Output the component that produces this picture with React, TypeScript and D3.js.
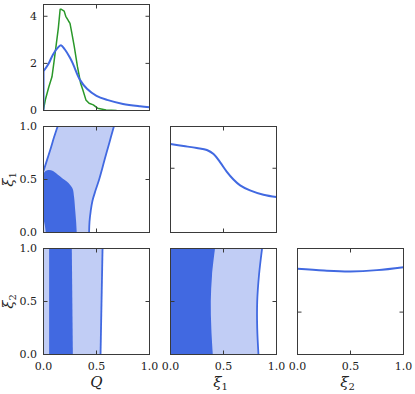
import React from 'react';
import * as d3 from 'd3';

// ---- data ----
const qBlueQ = [0, 0.045, 0.09, 0.14, 0.165, 0.2, 0.25, 0.28, 0.344, 0.41, 0.5, 0.6, 0.75, 0.91, 1.0];
const qBlueD = [1.67, 1.96, 2.38, 2.69, 2.77, 2.6, 2.24, 1.96, 1.3, 0.92, 0.62, 0.45, 0.28, 0.18, 0.14];
const qGreenQ = [0, 0.02, 0.05, 0.08, 0.1, 0.12, 0.14, 0.157, 0.165, 0.195, 0.21, 0.236, 0.25, 0.267, 0.29, 0.32, 0.35, 0.373, 0.4, 0.43, 0.47, 0.51, 0.59, 0.69];
const qGreenD = [0.05, 0.5, 1.0, 1.43, 2.1, 2.8, 3.5, 4.3, 4.3, 4.22, 4.0, 3.8, 3.7, 3.3, 2.72, 1.87, 1.16, 0.85, 0.45, 0.31, 0.24, 0.1, 0.02, 0.0];

const xi1Grid = [0, 0.123, 0.248, 0.343, 0.406, 0.469, 0.53, 0.594, 0.657, 0.75, 0.877, 1.0];
const xi1Density = [1.376, 1.346, 1.315, 1.284, 1.221, 1.092, 0.949, 0.825, 0.733, 0.655, 0.587, 0.551];

const xi2Grid = [0, 0.25, 0.5, 0.75, 1.0];
const xi2Density = [1.01, 0.99, 0.98, 0.995, 1.03];

// Q vs xi1 contours
const xi1Levels = [0, 0.1, 0.2, 0.3, 0.4, 0.5, 0.6, 0.7, 0.8, 0.9, 1.0];
const qXi1OuterRight = [0.43, 0.434, 0.445, 0.462, 0.492, 0.525, 0.553, 0.58, 0.608, 0.636, 0.664];
const qXi1OuterLeftQ = [0, 0.035, 0.07, 0.1, 0.133];
const qXi1OuterLeftXi = [0.58, 0.69, 0.8, 0.9, 1.0];
const qXi1InnerQ = [0.022, 0.012, 0, 0, 0.02, 0.05, 0.09, 0.13, 0.18, 0.22, 0.25, 0.276, 0.289, 0.3, 0.308, 0.314];
const qXi1InnerXi = [0, 0.07, 0.14, 0.55, 0.58, 0.59, 0.58, 0.55, 0.51, 0.48, 0.45, 0.41, 0.33, 0.2, 0.1, 0];

// Q vs xi2 contours
const xi2Levels = [0, 1];
const qXi2InnerLeft = [0.053, 0.053];
const qXi2InnerRight = [0.277, 0.267];
const qXi2OuterRight = [0.538, 0.557];

// xi1 vs xi2 contours
const xi2LevelsB = [0, 0.25, 0.5, 0.75, 1.0];
const xi1Xi2InnerRight = [0.40, 0.385, 0.38, 0.392, 0.42];
const xi1Xi2OuterRight = [0.83, 0.818, 0.818, 0.835, 0.864];

const unitTicks = [0.0, 0.5, 1.0];
const qDensTicks = [0, 2, 4];

// ---- layout ----
const W = 415, H = 394;
const colX = [[43.5, 149.5], [170.5, 276.5], [297.5, 403.5]];
const rowY = [[4.5, 110.5], [126.5, 232.5], [248.5, 354.5]];
const DARK = '#4169e1';
const LIGHT = '#c1cdf5';
const GREEN = '#2a982a';
const FRAME = '#3a3a3a';
const FONT = '"DejaVu Serif", serif';

type Sc = d3.ScaleLinear<number, number>;

function Frame({ c, r, xs, ys, xt, yt }: { c: number; r: number; xs: Sc; ys: Sc; xt: number[]; yt: number[] }) {
  const [x0, x1] = colX[c];
  const [y0, y1] = rowY[r];
  const L = 4;
  return (
    <g>
      {xt.map((t, i) => (
        <g key={'x' + i}>
          <line x1={xs(t)} x2={xs(t)} y1={y1} y2={y1 - L} stroke={FRAME} strokeWidth={1} />
          <line x1={xs(t)} x2={xs(t)} y1={y0} y2={y0 + L} stroke={FRAME} strokeWidth={1} />
        </g>
      ))}
      {yt.map((t, i) => (
        <g key={'y' + i}>
          <line x1={x0} x2={x0 + L} y1={ys(t)} y2={ys(t)} stroke={FRAME} strokeWidth={1} />
          <line x1={x1} x2={x1 - L} y1={ys(t)} y2={ys(t)} stroke={FRAME} strokeWidth={1} />
        </g>
      ))}
      <rect x={x0} y={y0} width={x1 - x0} height={y1 - y0} fill="none" stroke={FRAME} strokeWidth={1} />
    </g>
  );
}

export default function App() {
  const xS = colX.map(([a, b]) => d3.scaleLinear().domain([0, 1]).range([a, b]));
  const yUnit = rowY.map(([a, b]) => d3.scaleLinear().domain([0, 1]).range([b, a]));
  const yQ = d3.scaleLinear().domain([0, 4.5]).range([rowY[0][1], rowY[0][0]]);
  const yXi1 = d3.scaleLinear().domain([0, 1.65]).range([rowY[1][1], rowY[1][0]]);
  const yXi2 = d3.scaleLinear().domain([0, 1.25]).range([rowY[2][1], rowY[2][0]]);

  const smooth = d3.line<[number, number]>().curve(d3.curveCatmullRom.alpha(0.5));
  const straight = d3.line<[number, number]>();

  const blueQ = `M${xS[0](0)},${yQ(0)}` + smooth(qBlueQ.map((q, i) => [xS[0](q), yQ(qBlueD[i])] as [number, number]))!.replace('M', 'L');
  const greenQ = straight(qGreenQ.map((q, i) => [xS[0](q), yQ(qGreenD[i])] as [number, number]));
  const xi1Line = smooth(xi1Grid.map((x, i) => [xS[1](x), yXi1(xi1Density[i])] as [number, number]));
  const xi2Line = smooth(xi2Grid.map((x, i) => [xS[2](x), yXi2(xi2Density[i])] as [number, number]));

  // Q-xi1
  const xa = xS[0], ya = yUnit[1];
  const rightPts = xi1Levels.map((v, i) => [xa(qXi1OuterRight[i]), ya(v)] as [number, number]);
  const leftPts = qXi1OuterLeftQ.map((q, i) => [xa(q), ya(qXi1OuterLeftXi[i])] as [number, number]);
  const lightPoly = [[xa(0), ya(0)] as [number, number], ...rightPts, ...leftPts.slice().reverse(), [xa(0), ya(0)] as [number, number]];
  const lightPath = straight(lightPoly) + 'Z';
  const rightLine = smooth(rightPts);
  const leftLine = smooth(leftPts);
  const innerPath = smooth(qXi1InnerQ.map((q, i) => [xa(q), ya(qXi1InnerXi[i])] as [number, number])) + 'Z';

  // Q-xi2
  const yb = yUnit[2];
  const lightB = straight([
    [xa(0), yb(0)], [xa(qXi2OuterRight[0]), yb(xi2Levels[0])], [xa(qXi2OuterRight[1]), yb(xi2Levels[1])], [xa(0), yb(1)],
  ] as [number, number][]) + 'Z';
  const darkB = straight([
    [xa(qXi2InnerLeft[0]), yb(xi2Levels[0])], [xa(qXi2InnerRight[0]), yb(xi2Levels[0])],
    [xa(qXi2InnerRight[1]), yb(xi2Levels[1])], [xa(qXi2InnerLeft[1]), yb(xi2Levels[1])],
  ] as [number, number][]) + 'Z';
  const lineB = straight([
    [xa(qXi2OuterRight[0]), yb(xi2Levels[0])], [xa(qXi2OuterRight[1]), yb(xi2Levels[1])],
  ] as [number, number][]);

  // xi1-xi2
  const xc = xS[1];
  const outerC = xi2LevelsB.map((v, i) => [xc(xi1Xi2OuterRight[i]), yb(v)] as [number, number]);
  const innerC = xi2LevelsB.map((v, i) => [xc(xi1Xi2InnerRight[i]), yb(v)] as [number, number]);
  const lightC = `M${xc(0)},${yb(0)}` + smooth(outerC)!.replace('M', 'L') + `L${xc(0)},${yb(1)}Z`;
  const darkC = `M${xc(0)},${yb(0)}` + smooth(innerC)!.replace('M', 'L') + `L${xc(0)},${yb(1)}Z`;
  const lineC = smooth(outerC);

  const clip = (c: number, r: number) => `clip-${c}-${r}`;
  const panels: [number, number][] = [[0, 0], [0, 1], [0, 2], [1, 1], [1, 2], [2, 2]];

  const tickStyle: React.CSSProperties = { fontFamily: FONT, fontSize: '11px', fill: '#222' };
  const labStyle: React.CSSProperties = { fontFamily: FONT, fontSize: '15px', fontStyle: 'italic', fill: '#222' };
  const subStyle: React.CSSProperties = { fontFamily: FONT, fontSize: '10px', fontStyle: 'normal' };

  return (
    <svg width={W} height={H} style={{ position: 'absolute', left: 0, top: 0, background: '#fff', fontFamily: FONT }}>
      <defs>
        {panels.map(([c, r]) => (
          <clipPath id={clip(c, r)} key={clip(c, r)}>
            <rect x={colX[c][0]} y={rowY[r][0]} width={colX[c][1] - colX[c][0]} height={rowY[r][1] - rowY[r][0]} />
          </clipPath>
        ))}
      </defs>

      {/* Q marginal */}
      <g clipPath={`url(#${clip(0, 0)})`}>
        <path d={greenQ!} fill="none" stroke={GREEN} strokeWidth={1.5} strokeLinejoin="round" />
        <path d={blueQ} fill="none" stroke={DARK} strokeWidth={2} strokeLinejoin="round" />
      </g>
      <Frame c={0} r={0} xs={xS[0]} ys={yQ} xt={[0.5]} yt={[2, 4]} />

      {/* Q - xi1 */}
      <g clipPath={`url(#${clip(0, 1)})`}>
        <path d={lightPath} fill={LIGHT} stroke="none" />
        <path d={innerPath} fill={DARK} stroke="none" />
        <path d={rightLine!} fill="none" stroke={DARK} strokeWidth={1.8} />
        <path d={leftLine!} fill="none" stroke={DARK} strokeWidth={1.8} />
      </g>
      <Frame c={0} r={1} xs={xS[0]} ys={yUnit[1]} xt={[0.5]} yt={[0.5]} />

      {/* Q - xi2 */}
      <g clipPath={`url(#${clip(0, 2)})`}>
        <path d={lightB} fill={LIGHT} />
        <path d={darkB} fill={DARK} />
        <path d={lineB!} fill="none" stroke={DARK} strokeWidth={1.8} />
      </g>
      <Frame c={0} r={2} xs={xS[0]} ys={yUnit[2]} xt={[0.5]} yt={[0.5]} />

      {/* xi1 marginal */}
      <g clipPath={`url(#${clip(1, 1)})`}>
        <path d={xi1Line!} fill="none" stroke={DARK} strokeWidth={2} />
      </g>
      <Frame c={1} r={1} xs={xS[1]} ys={yXi1} xt={[0.5]} yt={[1]} />

      {/* xi1 - xi2 */}
      <g clipPath={`url(#${clip(1, 2)})`}>
        <path d={lightC} fill={LIGHT} />
        <path d={darkC} fill={DARK} />
        <path d={lineC!} fill="none" stroke={DARK} strokeWidth={1.8} />
      </g>
      <Frame c={1} r={2} xs={xS[1]} ys={yUnit[2]} xt={[0.5]} yt={[0.5]} />

      {/* xi2 marginal */}
      <g clipPath={`url(#${clip(2, 2)})`}>
        <path d={xi2Line!} fill="none" stroke={DARK} strokeWidth={2} />
      </g>
      <Frame c={2} r={2} xs={xS[2]} ys={yXi2} xt={[0.5]} yt={[0.5]} />

      {/* y tick labels */}
      {qDensTicks.map((t) => (
        <text key={'qd' + t} x={37} y={yQ(t)} dy="0.35em" textAnchor="end" style={tickStyle}>{String(t)}</text>
      ))}
      {[1, 2].map((r) => unitTicks.map((t) => (
        <text key={'yu' + r + t} x={37} y={yUnit[r](t)} dy="0.35em" textAnchor="end" style={tickStyle}>{t.toFixed(1)}</text>
      )))}
      {/* x tick labels */}
      {[0, 1, 2].map((c) => unitTicks.map((t) => (
        <text key={'xu' + c + t} x={xS[c](t)} y={370} textAnchor="middle" style={tickStyle}>{t.toFixed(1)}</text>
      )))}

      {/* axis labels */}
      <text x={xS[0](0.5)} y={387} textAnchor="middle" style={labStyle}>Q</text>
      <text x={xS[1](0.5) - 3} y={387} textAnchor="middle" style={labStyle}>ξ<tspan style={subStyle} dy={3}>1</tspan></text>
      <text x={xS[2](0.5) - 3} y={387} textAnchor="middle" style={labStyle}>ξ<tspan style={subStyle} dy={3}>2</tspan></text>
      <text transform={`translate(13,${yUnit[1](0.5)}) rotate(-90)`} textAnchor="middle" style={labStyle}>ξ<tspan style={subStyle} dy={3}>1</tspan></text>
      <text transform={`translate(13,${yUnit[2](0.5)}) rotate(-90)`} textAnchor="middle" style={labStyle}>ξ<tspan style={subStyle} dy={3}>2</tspan></text>
    </svg>
  );
}
